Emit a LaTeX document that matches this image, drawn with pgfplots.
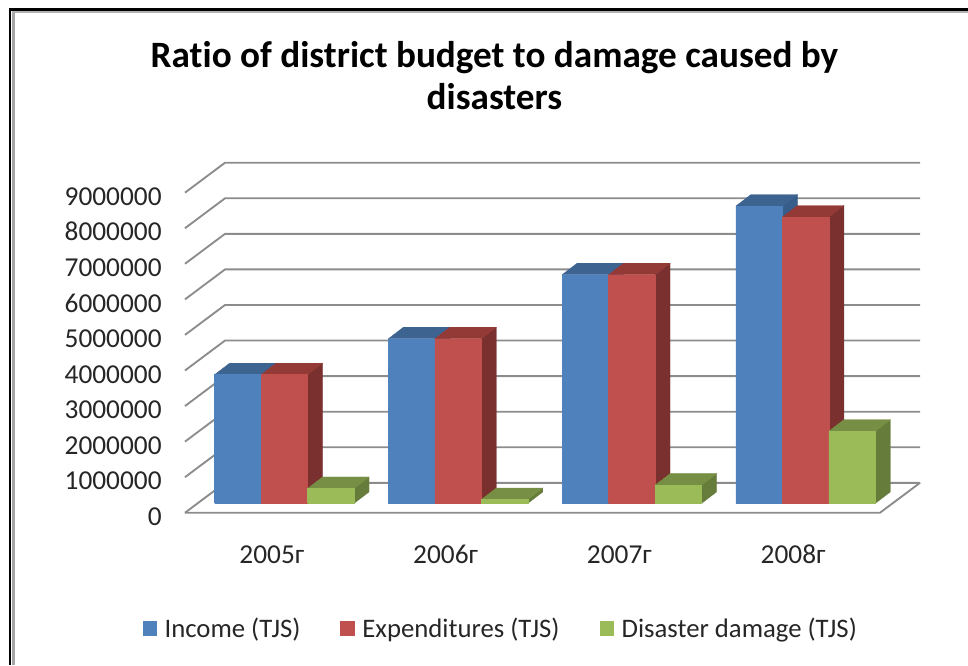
\documentclass[border=0pt]{standalone}
\usepackage{fontspec}
\setmainfont[Ligatures=CommonOff]{Carlito}
\usepackage{pgfplots}
\pgfplotsset{compat=1.18}

\definecolor{blueF}{HTML}{4F81BD}\definecolor{blueT}{HTML}{3D6391}\definecolor{blueS}{HTML}{375D8A}
\definecolor{redF}{HTML}{C0504D}\definecolor{redT}{HTML}{933936}\definecolor{redS}{HTML}{7A302E}
\definecolor{greenF}{HTML}{9BBB59}\definecolor{greenT}{HTML}{778F44}\definecolor{greenS}{HTML}{667C3B}
\definecolor{gridgray}{HTML}{8C8C8C}

% One bar with depth: category, slot in the cluster, value, three face colours.
% Faces are sheared to suggest depth; the floor offset keeps bars inside the box.
\newcommand\depthbar[6]{%
  \pgfmathsetmacro\xa{#1-0.3295+#2*0.2676}%
  \pgfmathsetmacro\xb{\xa+0.2676}%
  \pgfmathsetmacro\xc{\xb+0.0863}%
  \pgfmathsetmacro\xd{\xa+0.0863}%
  \edef\ylow{263500}%
  \edef\ylowb{585500}%
  \edef\ya{\the\numexpr #3+263500\relax}%
  \edef\yb{\the\numexpr #3+585500\relax}%
  \edef\cmd{%
    \noexpand\addplot[forget plot,fill=#6,draw=#6,line width=0.2pt] coordinates {(\xb,\ylow)(\xc,\ylowb)(\xc,\yb)(\xb,\ya)(\xb,\ylow)};
    \noexpand\addplot[forget plot,fill=#5,draw=#5,line width=0.2pt] coordinates {(\xa,\ya)(\xb,\ya)(\xc,\yb)(\xd,\yb)(\xa,\ya)};
    \noexpand\addplot[forget plot,fill=#4,draw=#4,line width=0.2pt] coordinates {(\xa,\ylow)(\xb,\ylow)(\xb,\ya)(\xa,\ya)(\xa,\ylow)};
  }%
  \cmd
}
% Gridline on the side wall and the back wall.
\newcommand\gridlevel[1]{%
  \edef\yt{\the\numexpr #1+841000\relax}%
  \edef\cmd{\noexpand\addplot[forget plot,draw=gridgray,line width=1.4pt] coordinates {(-0.5,#1)(-0.2698,\yt)(3.7302,\yt)};}%
  \cmd
}

\begin{document}
\begin{tikzpicture}
\useasboundingbox (0,0) rectangle (726pt,498.75pt);
% page frame
\fill[black] (6.8pt,0) rectangle (8.6pt,492.6pt);
\fill[black] (6.8pt,490.8pt) rectangle (726pt,492.6pt);
\fill[gray!70] (9.2pt,0) rectangle (11.2pt,490.4pt);
\fill[gray!60] (9.2pt,489pt) rectangle (726pt,490.4pt);
\begin{axis}[
  at={(138.75pt,114.2pt)}, anchor=south west,
  scale only axis, width=551.25pt, height=262.5pt,
  xmin=-0.5, xmax=3.7302, ymin=0, ymax=9841000,
  clip=false,
  scaled y ticks=false,
  axis line style={draw=none},
  major tick length=0pt,
  xtick={0,1,2,3},
  xticklabels={2005г,2006г,2007г,2008г},
  ytick={0,1000000,2000000,3000000,4000000,5000000,6000000,7000000,8000000,9000000},
  yticklabels={0,1000000,2000000,3000000,4000000,5000000,6000000,7000000,8000000,9000000},
  ticklabel style={font=\fontsize{20.5}{24}\selectfont, text=black!85, text height=13pt, text depth=0pt},
  yticklabel style={anchor=east, xshift=-14pt, yshift=-3pt},
  xticklabel style={yshift=-21.5pt},
  title={Ratio of district budget to damage caused by\\disasters},
  title style={font=\fontsize{27.9}{32}\selectfont\bfseries, align=center, at={(axis description cs:0.421,1)}, anchor=south, yshift=30pt},
  legend columns=3,
  legend cell align=left,
  legend style={draw=none, fill=none, at={(axis description cs:0.43,-0.331)}, anchor=center,
    font=\fontsize{20.05}{24}\selectfont, text=black!85,
    /tikz/every even column/.append style={column sep=28pt}},
  legend image code/.code={\fill[#1,draw=none] (0pt,-5.5pt) rectangle (11pt,5.5pt);\path[draw=none,fill=none] (0pt,0pt) -- (14.5pt,0pt);},
]
\gridlevel{0}\gridlevel{1000000}\gridlevel{2000000}\gridlevel{3000000}\gridlevel{4000000}
\gridlevel{5000000}\gridlevel{6000000}\gridlevel{7000000}\gridlevel{8000000}\gridlevel{9000000}
\addplot[forget plot,draw=gridgray,line width=1.4pt] coordinates {(-0.5,0)(3.5,0)(3.7302,841000)};

% Income
\depthbar{0}{0}{3620000}{blueF}{blueT}{blueS}
\depthbar{1}{0}{4630000}{blueF}{blueT}{blueS}
\depthbar{2}{0}{6430000}{blueF}{blueT}{blueS}
\depthbar{3}{0}{8360000}{blueF}{blueT}{blueS}
% Expenditures
\depthbar{0}{1}{3620000}{redF}{redT}{redS}
\depthbar{1}{1}{4630000}{redF}{redT}{redS}
\depthbar{2}{1}{6430000}{redF}{redT}{redS}
\depthbar{3}{1}{8050000}{redF}{redT}{redS}
% Disaster damage
\depthbar{0}{2}{420000}{greenF}{greenT}{greenS}
\depthbar{1}{2}{110000}{greenF}{greenT}{greenS}
\depthbar{2}{2}{514000}{greenF}{greenT}{greenS}
\depthbar{3}{2}{2030000}{greenF}{greenT}{greenS}

\addlegendimage{fill=blueF}\addlegendentry{Income (TJS)}
\addlegendimage{fill=redF}\addlegendentry{Expenditures (TJS)}
\addlegendimage{fill=greenF}\addlegendentry{Disaster damage (TJS)}
\end{axis}
\end{tikzpicture}
\end{document}
